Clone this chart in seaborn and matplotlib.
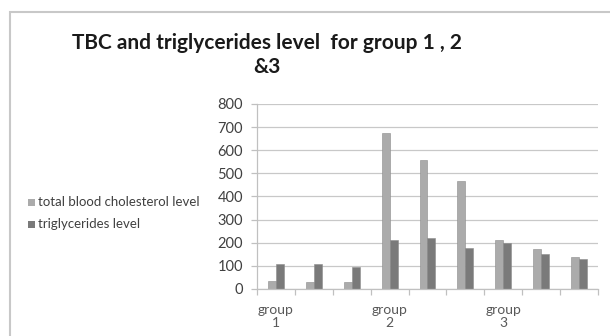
import matplotlib
matplotlib.use("Agg")
import matplotlib.pyplot as plt
import numpy as np
import pandas as pd
import seaborn as sns
from matplotlib.patches import Rectangle

# Данные
categories = ["c1", "c2", "c3", "c4", "c5", "c6", "c7", "c8", "c9"]
tbc_level = [35, 32, 29, 674, 557, 466, 211, 172, 137]
trig_level = [110, 107, 95, 211, 219, 176, 201, 152, 129]
series_names = ["total blood cholesterol level", "triglycerides level"]
group_labels = ["group\n1", "group\n2", "group\n3"]
group_positions = [0, 3, 6]
y_ticks = [0, 100, 200, 300, 400, 500, 600, 700, 800]

sns.set_theme(style="white")
plt.rcParams["font.family"] = ["Lato", "DejaVu Sans"]

df = pd.DataFrame(
    {
        "category": categories * 2,
        "value": tbc_level + trig_level,
        "series": [series_names[0]] * len(categories) + [series_names[1]] * len(categories),
    }
)

colors = ["#ababab", "#7a7a7a"]

fig = plt.figure(figsize=(6.1, 3.36), dpi=100)
fig.patch.set_facecolor("white")
ax = fig.add_axes([0.4213, 0.1399, 0.559, 0.5506])

sns.barplot(
    data=df,
    x="category",
    y="value",
    hue="series",
    order=categories,
    hue_order=series_names,
    palette=colors,
    width=0.42,
    edgecolor="#8c8c8c",
    linewidth=0.4,
    ax=ax,
    legend=False,
)

ax.set_xlim(-0.5, len(categories) - 0.5)
ax.set_ylim(0, 800)
ax.set_yticks(y_ticks)
ax.set_yticklabels([str(v) for v in y_ticks], fontsize=10.5, color="#404040")
ax.yaxis.grid(True, color="#c8c8c8", linewidth=0.9)
ax.set_axisbelow(True)
ax.tick_params(axis="y", length=4, color="#c0c0c0", width=0.9, pad=6, left=True)

ax.set_xticks(group_positions)
ax.set_xticklabels(group_labels, fontsize=10, color="#595959", linespacing=1.05)
ax.tick_params(axis="x", length=0, pad=11)
ax.set_xticks(np.arange(-0.5, len(categories), 1.0), minor=True)
ax.tick_params(axis="x", which="minor", length=4, color="#c0c0c0", width=0.9, bottom=True)
ax.set_xlabel("")
ax.set_ylabel("")

for side in ["top", "right"]:
    ax.spines[side].set_visible(False)
for side in ["left", "bottom"]:
    ax.spines[side].set_color("#c0c0c0")
    ax.spines[side].set_linewidth(0.9)

# рамка области диаграммы
fig.add_artist(Rectangle((10 / 610, -0.1), 1.2, 1 - 12 / 336 + 0.1, transform=fig.transFigure,
                         fill=False, edgecolor="#c8c8c8", linewidth=1.5))

fig.text(267 / 610, 1 - 55 / 336, "TBC and triglycerides level  for group 1 , 2\n&3",
         ha="center", va="center", fontsize=15, fontweight="bold", color="#1a1a1a",
         linespacing=1.2)

# легенда слева
for i, (name, c) in enumerate(zip(series_names, colors)):
    y = 1 - (202 + 22 * i) / 336
    fig.add_artist(Rectangle((28 / 610, y - 3.5 / 336), 7 / 610, 7 / 336,
                             transform=fig.transFigure, facecolor=c, edgecolor="none"))
    fig.text(38 / 610, y, name, ha="left", va="center", fontsize=9.5, color="#404040")

fig.savefig("out.png", dpi=100)
